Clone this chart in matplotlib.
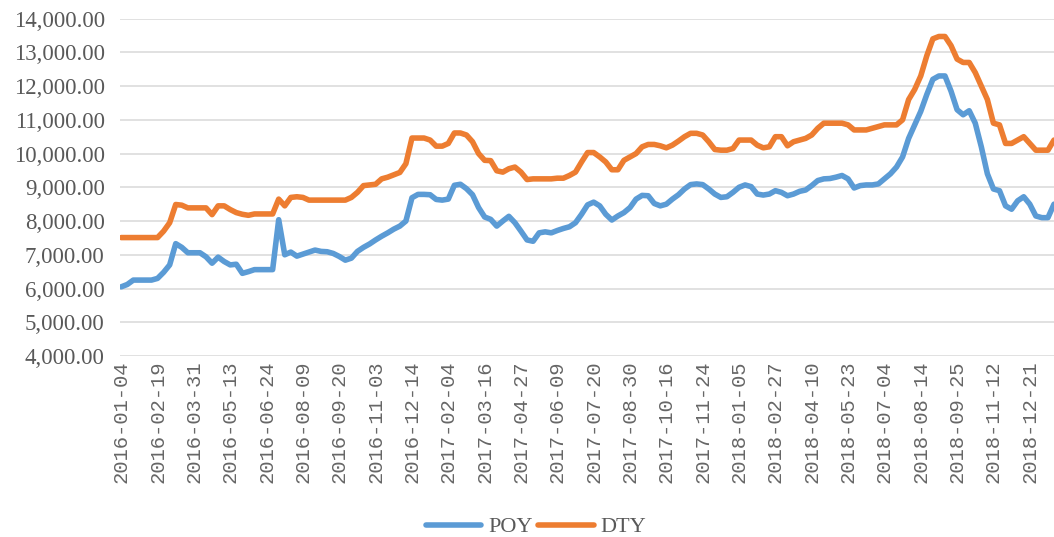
import numpy as np
import matplotlib.pyplot as plt
from matplotlib.ticker import FuncFormatter

# trading-day labels shown on the x axis (every 30 trading days)
date_labels = ['2016-01-04', '2016-02-19', '2016-03-31', '2016-05-13', '2016-06-24',
               '2016-08-09', '2016-09-20', '2016-11-03', '2016-12-14', '2017-02-04',
               '2017-03-16', '2017-04-27', '2017-06-09', '2017-07-20', '2017-08-30',
               '2017-10-16', '2017-11-24', '2018-01-05', '2018-02-27', '2018-04-10',
               '2018-05-23', '2018-07-04', '2018-08-14', '2018-09-25', '2018-11-12',
               '2018-12-21']
label_step = 30   # trading days between labels
sample_step = 5   # values below are read every 5 trading days

# POY price, every 5 trading days
poy = [6050, 6120, 6250, 6250, 6250, 6250, 6300, 6480, 6700, 7330,
       7220, 7060, 7060, 7060, 6940, 6750, 6930, 6800, 6700, 6720,
       6450, 6500, 6560, 6560, 6560, 6560, 8040, 7000, 7080, 6960,
       7020, 7080, 7140, 7100, 7090, 7040, 6950, 6840, 6900, 7100,
       7220, 7320, 7440, 7550, 7650, 7760, 7850, 8000, 8690, 8790,
       8790, 8780, 8640, 8620, 8650, 9060, 9090, 8960, 8780, 8400,
       8120, 8050, 7850, 8000, 8140, 7950, 7700, 7440, 7400, 7650,
       7680, 7650, 7720, 7780, 7830, 7950, 8200, 8480, 8560, 8450,
       8200, 8030, 8150, 8250, 8400, 8650, 8760, 8750, 8520, 8450,
       8500, 8650, 8780, 8950, 9080, 9100, 9080, 8950, 8800, 8700,
       8720, 8850, 9000, 9070, 9020, 8800, 8770, 8800, 8900, 8850,
       8750, 8800, 8880, 8920, 9050, 9200, 9250, 9260, 9300, 9350,
       9250, 8980, 9050, 9070, 9070, 9100, 9250, 9400, 9600, 9900,
       10450, 10850, 11250, 11750, 12200, 12300, 12300, 11850, 11300, 11150,
       11270, 10900, 10200, 9400, 8950, 8900, 8450, 8350, 8600, 8720,
       8500, 8150, 8100, 8100, 8500]

# DTY price, same sampling
dty = [7510, 7510, 7510, 7510, 7510, 7510, 7510, 7700, 7950, 8490,
       8470, 8390, 8390, 8390, 8390, 8190, 8450, 8450, 8340, 8250,
       8200, 8170, 8210, 8210, 8210, 8210, 8650, 8450, 8700, 8720,
       8700, 8620, 8620, 8620, 8620, 8620, 8620, 8620, 8700, 8850,
       9050, 9070, 9090, 9250, 9300, 9370, 9440, 9700, 10460, 10460,
       10460, 10400, 10220, 10220, 10300, 10610, 10610, 10550, 10350, 10000,
       9800, 9790, 9490, 9450, 9550, 9600, 9450, 9230, 9250, 9250,
       9250, 9250, 9270, 9270, 9350, 9450, 9750, 10030, 10030, 9900,
       9750, 9520, 9520, 9800, 9900, 10000, 10200, 10270, 10270, 10230,
       10170, 10250, 10370, 10500, 10600, 10600, 10550, 10350, 10120, 10100,
       10100, 10150, 10400, 10400, 10400, 10250, 10170, 10200, 10500, 10500,
       10230, 10350, 10400, 10450, 10550, 10750, 10900, 10900, 10900, 10900,
       10850, 10700, 10700, 10700, 10750, 10800, 10850, 10850, 10850, 11000,
       11600, 11900, 12300, 12900, 13400, 13470, 13470, 13200, 12800, 12700,
       12700, 12400, 12000, 11600, 10900, 10850, 10300, 10300, 10400, 10500,
       10300, 10100, 10100, 10100, 10400]

days = np.arange(len(poy)) * sample_step
tick_pos = np.arange(len(date_labels)) * label_step

fig = plt.figure(figsize=(10.54, 5.37), dpi=100)
ax = fig.add_axes([120 / 1054, 1 - 356 / 537, 934 / 1054, (356 - 18.6) / 537])

ax.plot(days, poy, color='#5B9BD5', lw=4.0, label='POY', solid_capstyle='round', solid_joinstyle='round')
ax.plot(days, dty, color='#ED7D31', lw=4.0, label='DTY', solid_capstyle='round', solid_joinstyle='round')

ax.set_ylim(4000, 14000)
ax.set_yticks(np.arange(4000, 14001, 1000))
ax.yaxis.set_major_formatter(FuncFormatter(lambda v, p: f'{v:,.2f}'))
ax.set_xlim(-1, days[-1])
ax.set_xticks(tick_pos)
ax.set_xticklabels(date_labels, rotation=90, family='Liberation Mono', fontsize=14.8, color='#666666')

for lbl in ax.get_yticklabels():
    lbl.set_family('Liberation Serif')
    lbl.set_fontsize(16.5)
    lbl.set_color('#595959')

ax.tick_params(axis='y', length=0, pad=11)
ax.tick_params(axis='x', length=0, pad=3)
ax.grid(axis='y', color='#D9D9D9', lw=1.1)
ax.set_axisbelow(True)
for s in ax.spines.values():
    s.set_visible(False)

leg = fig.legend(loc='center', bbox_to_anchor=(536 / 1054, 1 - 527 / 537), ncol=2, frameon=False,
                 prop={'family': 'Liberation Serif', 'size': 16}, handlelength=2.5,
                 handletextpad=0.3, columnspacing=0.25)
for t in leg.get_texts():
    t.set_color('#595959')

fig.savefig('out.png', dpi=100)
